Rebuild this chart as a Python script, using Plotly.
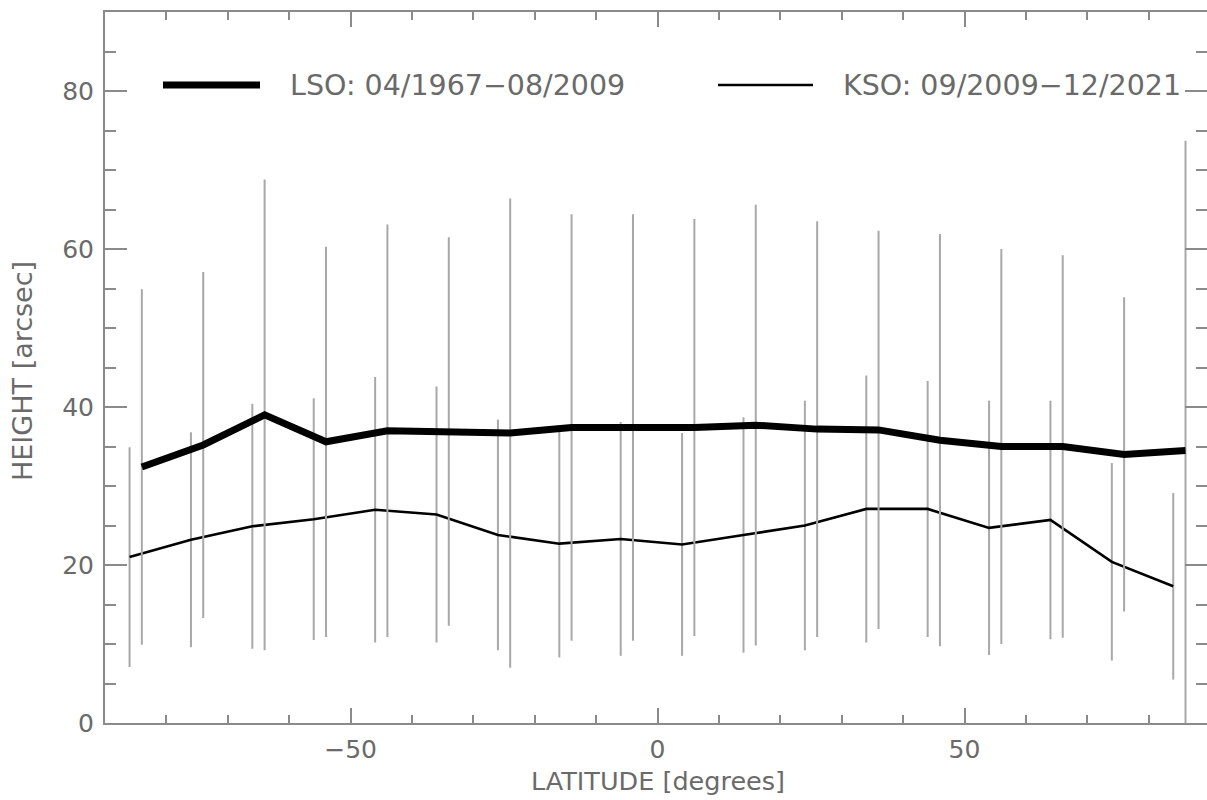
import plotly.graph_objects as go

# ---- data ----
lat_lso = [-84, -74, -64, -54, -44, -34, -24, -14, -4, 6, 16, 26, 36, 46, 56, 66, 76, 86]
h_lso = [32.4, 35.2, 39.0, 35.6, 37.0, 36.9, 36.7, 37.4, 37.4, 37.4, 37.7, 37.2, 37.1, 35.8, 35.0, 35.0, 34.0, 34.5]
err_lso = [22.5, 21.9, 29.8, 24.7, 26.1, 24.6, 29.7, 27.0, 27.0, 26.4, 27.9, 26.3, 25.2, 26.1, 25.0, 24.2, 19.9, 39.2]

lat_kso = [-86, -76, -66, -56, -46, -36, -26, -16, -6, 4, 14, 24, 34, 44, 54, 64, 74, 84]
h_kso = [21.0, 23.2, 24.9, 25.8, 27.0, 26.4, 23.8, 22.7, 23.3, 22.6, 23.8, 25.0, 27.1, 27.1, 24.7, 25.7, 20.4, 17.3]
err_kso = [13.9, 13.6, 15.5, 15.3, 16.8, 16.2, 14.6, 14.4, 14.8, 14.1, 14.9, 15.8, 16.9, 16.2, 16.1, 15.1, 12.5, 11.8]

legend_labels = ["LSO: 04/1967\u221208/2009", "KSO: 09/2009\u221212/2021"]
x_title = "LATITUDE [degrees]"
y_title = "HEIGHT [arcsec]"

W, H = 1207, 800
ML, MR, MT, MB = 105, 0, 12, 77
FONT = "DejaVu Sans"
TXT = "#6a6a6a"
AX = "#8a8a8a"
BAR = "#a8a8a8"

fig = go.Figure()

fig.add_trace(go.Scatter(
    x=lat_kso, y=h_kso, mode="lines",
    line=dict(color="black", width=2.6),
    error_y=dict(type="data", array=err_kso, visible=True, color=BAR, thickness=2, width=0),
    showlegend=False, name="KSO"))

fig.add_trace(go.Scatter(
    x=lat_lso, y=h_lso, mode="lines",
    line=dict(color="black", width=7),
    error_y=dict(type="data", array=err_lso, visible=True, color=BAR, thickness=2, width=0),
    showlegend=False, name="LSO"))

# empty trace to activate the right-hand tick axis
fig.add_trace(go.Scatter(x=[], y=[], yaxis="y2", showlegend=False, hoverinfo="skip"))

fig.update_layout(
    width=W, height=H,
    margin=dict(l=ML, r=MR, t=MT, b=MB, pad=0),
    paper_bgcolor="white", plot_bgcolor="white",
    font=dict(family=FONT, color=TXT, size=25),
    xaxis=dict(
        range=[-90, 89.5], tickmode="linear", tick0=-50, dtick=50,
        showgrid=False, zeroline=False,
        showline=True, linecolor=AX, linewidth=2, mirror="ticks",
        ticks="inside", ticklen=15, tickwidth=2, tickcolor=AX,
        tickfont=dict(family=FONT, size=25, color=TXT),
        minor=dict(tick0=0, dtick=10, ticks="inside", ticklen=8, tickwidth=2, tickcolor=AX, showgrid=False),
        ticklabelstandoff=3,
    ),
    yaxis=dict(
        range=[0, 90], tickmode="linear", tick0=0, dtick=20,
        showgrid=False, zeroline=False,
        showline=True, linecolor=AX, linewidth=2, mirror=False,
        ticks="inside", ticklen=22, tickwidth=2, tickcolor=AX,
        tickfont=dict(family=FONT, size=25, color=TXT),
        minor=dict(tick0=0, dtick=5, ticks="inside", ticklen=11, tickwidth=2, tickcolor=AX, showgrid=False),
        ticklabelstandoff=4,
    ),
    yaxis2=dict(
        overlaying="y", side="right", range=[0, 90], tickmode="linear", tick0=0, dtick=20,
        showgrid=False, zeroline=False, showline=False, showticklabels=False,
        ticks="inside", ticklen=22, tickwidth=2, tickcolor=AX,
        minor=dict(tick0=0, dtick=5, ticks="inside", ticklen=11, tickwidth=2, tickcolor=AX, showgrid=False),
    ),
)

pw = W - ML - MR
ph = H - MT - MB

def px(x):
    return (x - ML) / pw

def py(y):
    return (H - MB - y) / ph

# legend samples
fig.add_shape(type="line", xref="paper", yref="paper",
              x0=px(163), x1=px(260), y0=py(85), y1=py(85),
              line=dict(color="black", width=7))
fig.add_shape(type="line", xref="paper", yref="paper",
              x0=px(718), x1=px(813), y0=py(85), y1=py(85),
              line=dict(color="black", width=2.6))
fig.add_annotation(xref="paper", yref="paper", x=px(288), y=py(86), text=legend_labels[0],
                   showarrow=False, xanchor="left", yanchor="middle",
                   font=dict(family=FONT, size=28.5, color=TXT))
fig.add_annotation(xref="paper", yref="paper", x=px(841), y=py(86), text=legend_labels[1],
                   showarrow=False, xanchor="left", yanchor="middle",
                   font=dict(family=FONT, size=28.5, color=TXT))

# axis titles
fig.add_annotation(xref="paper", yref="paper", x=px(658), y=py(781), text=x_title,
                   showarrow=False, xanchor="center", yanchor="middle",
                   font=dict(family=FONT, size=25.5, color=TXT))
fig.add_annotation(xref="paper", yref="paper", x=px(22), y=py(371), text=y_title,
                   showarrow=False, xanchor="center", yanchor="middle", textangle=-90,
                   font=dict(family=FONT, size=27, color=TXT))

fig.write_html("out.html")
